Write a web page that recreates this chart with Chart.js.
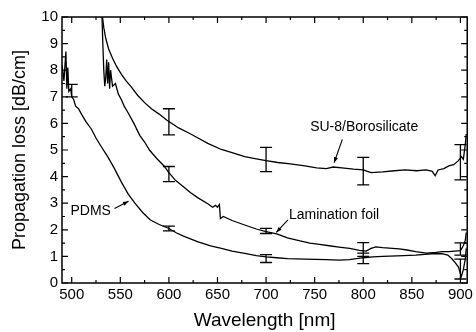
<!DOCTYPE html>
<html>
<head>
<meta charset="utf-8">
<script src="https://cdn.jsdelivr.net/npm/chart.js@4.4.1/dist/chart.umd.min.js"></script>
<style>
  body { margin: 0; background: #fff; }
  #wrap { width: 476px; height: 332px; }
</style>
</head>
<body>
<div id="wrap"><canvas id="lossChart" width="476" height="332"></canvas></div>
<script>
// tick labels
const xTicks = [500, 550, 600, 650, 700, 750, 800, 850, 900];
const yTicks = [0, 1, 2, 3, 4, 5, 6, 7, 8, 9, 10];

// SU-8/Borosilicate
const su8Nm = [531, 533, 535, 538, 542, 546, 551, 556, 561, 568, 575, 582, 590, 598, 605, 610, 620, 630, 640, 654, 665, 678, 690, 700, 712, 725, 740, 752, 762, 769, 778, 790, 800, 808, 820, 832, 843, 855, 865, 871, 874, 877, 883, 888, 893, 898, 901, 903, 905, 906];
const su8Loss = [10.2, 9.6, 9.2, 8.8, 8.45, 8.15, 7.85, 7.6, 7.38, 7.05, 6.78, 6.55, 6.35, 6.12, 5.95, 5.83, 5.65, 5.45, 5.25, 5.02, 4.9, 4.75, 4.67, 4.6, 4.53, 4.48, 4.4, 4.33, 4.3, 4.36, 4.33, 4.28, 4.25, 4.15, 4.18, 4.22, 4.25, 4.22, 4.25, 4.2, 4.03, 4.25, 4.3, 4.4, 4.45, 4.6, 4.75, 4.65, 5.2, 5.6];

// Lamination foil
const lamNm = [531, 532, 533, 534, 535, 536, 537, 538, 539, 540, 542, 545, 548, 551, 554, 558, 564, 570, 575, 580, 587, 595, 600, 607, 615, 622, 630, 640, 645, 648, 650, 652, 653, 656, 665, 678, 690, 700, 711, 722, 735, 745, 755, 765, 775, 786, 796, 803, 808, 813, 820, 830, 837, 845, 854, 865, 875, 881, 888, 894, 900, 903, 905, 906];
const lamLoss = [10.2, 9.0, 8.0, 7.4, 7.7, 8.4, 7.5, 8.3, 7.3, 8.0, 7.4, 7.5, 7.1, 6.9, 6.65, 6.4, 6.0, 5.55, 5.3, 5.0, 4.7, 4.4, 4.15, 3.85, 3.62, 3.4, 3.2, 2.98, 2.85, 2.92, 2.85, 2.95, 2.42, 2.5, 2.35, 2.18, 2.03, 1.93, 1.85, 1.7, 1.58, 1.5, 1.45, 1.4, 1.35, 1.3, 1.23, 1.2, 1.3, 1.36, 1.33, 1.3, 1.28, 1.24, 1.18, 1.12, 1.15, 1.18, 1.18, 1.2, 1.22, 1.4, 1.6, 1.9];

// PDMS
const pdmsNm = [490, 492, 494, 495, 496, 497, 499, 500, 502, 504, 507, 510, 515, 520, 525, 530, 537, 544, 551, 558, 565, 573, 581, 590, 600, 608, 615, 630, 643, 654, 665, 678, 690, 700, 711, 722, 740, 762, 775, 786, 800, 810, 820, 835, 854, 870, 881, 887, 891, 895, 898, 900, 901, 903, 905, 906];
const pdmsLoss = [8.2, 7.6, 8.7, 7.3, 8.1, 7.2, 7.3, 7.0, 6.9, 6.65, 6.55, 6.35, 6.05, 5.8, 5.45, 5.15, 4.75, 4.3, 3.8, 3.35, 3.0, 2.65, 2.37, 2.2, 2.05, 1.88, 1.76, 1.55, 1.4, 1.3, 1.2, 1.11, 1.03, 0.98, 0.95, 0.92, 0.9, 0.88, 0.86, 0.88, 0.95, 0.98, 1.0, 1.02, 1.05, 1.1, 1.1, 1.05, 0.92, 0.75, 0.6, 0.35, 0.25, 0.5, 0.9, 1.3];

// error bars (wavelength, low, high)
const errNm = [600, 700, 800, 900];
const su8Low = [5.57, 4.19, 3.69, 3.88];
const su8High = [6.55, 5.1, 4.72, 5.2];
const lamLow = [3.81, 1.86, 1.0, 1.05];
const lamHigh = [4.38, 2.05, 1.52, 1.51];
const pdmsErrNm = [500, 600, 700, 800, 900];
const pdmsLow = [7.0, 1.96, 0.77, 0.73, 0.15];
const pdmsHigh = [7.47, 2.14, 1.07, 1.12, 0.9];

const FONT = "'Liberation Sans', Arial, Helvetica, sans-serif";

function pts(xs, ys) {
    return xs.map((x, i) => ({ x: x, y: ys[i] }));
}

const errorBars = [
    { xs: errNm, lo: su8Low, hi: su8High },
    { xs: errNm, lo: lamLow, hi: lamHigh },
    { xs: pdmsErrNm, lo: pdmsLow, hi: pdmsHigh }
];

// curve labels with arrows, in data coordinates
const notes = [
    { text: 'SU-8/Borosilicate', x: 801, y: 5.86, from: [778.5, 5.4], to: [770, 4.52] },
    { text: 'Lamination foil', x: 770, y: 2.55, from: [722.5, 2.37], to: [710.5, 1.9] },
    { text: 'PDMS', x: 519.5, y: 2.72, from: [544, 2.8], to: [558.5, 3.07] }
];

const framePlugin = {
    id: 'frame',
    afterDatasetsDraw(chart) {
        const ctx = chart.ctx;
        const a = chart.chartArea;
        const xs = chart.scales.x;
        const ys = chart.scales.y;
        ctx.save();
        ctx.strokeStyle = '#000';
        ctx.lineWidth = 1.5;
        ctx.strokeRect(a.left, a.top, a.right - a.left, a.bottom - a.top);

        // inward ticks on all four sides
        ctx.lineWidth = 1.2;
        ctx.beginPath();
        for (let v = 475; v <= 907; v += 25) {
            if (v < xs.min) continue;
            const px = xs.getPixelForValue(v);
            const len = v % 50 === 0 ? 6 : 3;
            ctx.moveTo(px, a.bottom); ctx.lineTo(px, a.bottom - len);
            ctx.moveTo(px, a.top); ctx.lineTo(px, a.top + len);
        }
        for (let v = 0; v <= 10; v += 0.5) {
            const py = ys.getPixelForValue(v);
            const len = v % 1 === 0 ? 6 : 3;
            ctx.moveTo(a.left, py); ctx.lineTo(a.left + len, py);
            ctx.moveTo(a.right, py); ctx.lineTo(a.right - len, py);
        }
        ctx.stroke();

        // error bars
        ctx.lineWidth = 1.3;
        ctx.beginPath();
        errorBars.forEach(eb => {
            eb.xs.forEach((x, i) => {
                const px = xs.getPixelForValue(x);
                const p1 = ys.getPixelForValue(eb.lo[i]);
                const p2 = ys.getPixelForValue(eb.hi[i]);
                ctx.moveTo(px, p1); ctx.lineTo(px, p2);
                ctx.moveTo(px - 6, p1); ctx.lineTo(px + 6, p1);
                ctx.moveTo(px - 6, p2); ctx.lineTo(px + 6, p2);
            });
        });
        ctx.stroke();

        // labels and arrows
        ctx.font = '14px ' + FONT;
        ctx.fillStyle = '#000';
        ctx.textAlign = 'center';
        ctx.textBaseline = 'middle';
        notes.forEach(n => {
            ctx.fillText(n.text, xs.getPixelForValue(n.x), ys.getPixelForValue(n.y));
            const x1 = xs.getPixelForValue(n.from[0]), y1 = ys.getPixelForValue(n.from[1]);
            const x2 = xs.getPixelForValue(n.to[0]), y2 = ys.getPixelForValue(n.to[1]);
            ctx.lineWidth = 1.1;
            ctx.beginPath();
            ctx.moveTo(x1, y1); ctx.lineTo(x2, y2);
            ctx.stroke();
            const ang = Math.atan2(y2 - y1, x2 - x1);
            ctx.beginPath();
            ctx.moveTo(x2, y2);
            ctx.lineTo(x2 - 6 * Math.cos(ang - 0.35), y2 - 6 * Math.sin(ang - 0.35));
            ctx.lineTo(x2 - 6 * Math.cos(ang + 0.35), y2 - 6 * Math.sin(ang + 0.35));
            ctx.closePath();
            ctx.fill();
        });
        ctx.restore();
    }
};

const lineStyle = {
    borderColor: '#000',
    borderWidth: 1.3,
    pointRadius: 0,
    tension: 0,
    fill: false
};

new Chart(document.getElementById('lossChart').getContext('2d'), {
    type: 'line',
    data: {
        datasets: [
            Object.assign({ label: 'SU-8/Borosilicate', data: pts(su8Nm, su8Loss) }, lineStyle),
            Object.assign({ label: 'Lamination foil', data: pts(lamNm, lamLoss) }, lineStyle),
            Object.assign({ label: 'PDMS', data: pts(pdmsNm, pdmsLoss) }, lineStyle)
        ]
    },
    options: {
        responsive: false,
        animation: false,
        layout: { padding: { left: 0, right: 4, top: 17, bottom: 0 } },
        plugins: {
            legend: { display: false },
            tooltip: { enabled: false }
        },
        scales: {
            x: {
                type: 'linear',
                min: 490,
                max: 907,
                afterBuildTicks: function (scale) {
                    scale.ticks = xTicks.map(v => ({ value: v }));
                },
                afterFit: function (scale) { scale.height = 49; },
                grid: { display: false, drawTicks: false, tickLength: 0 },
                border: { display: false },
                ticks: {
                    color: '#000',
                    padding: 3,
                    maxRotation: 0,
                    font: { family: FONT, size: 15 }
                },
                title: {
                    display: true,
                    text: 'Wavelength [nm]',
                    color: '#000',
                    padding: { top: 8, bottom: 0 },
                    font: { family: FONT, size: 19 }
                }
            },
            y: {
                min: 0,
                max: 10,
                afterBuildTicks: function (scale) {
                    scale.ticks = yTicks.map(v => ({ value: v }));
                },
                afterFit: function (scale) { scale.width = 62; },
                grid: { display: false, drawTicks: false, tickLength: 0 },
                border: { display: false },
                ticks: {
                    color: '#000',
                    padding: 4,
                    font: { family: FONT, size: 15 }
                },
                title: {
                    display: true,
                    text: 'Propagation loss [dB/cm]',
                    color: '#000',
                    padding: { top: 9, bottom: 0 },
                    font: { family: FONT, size: 18 }
                }
            }
        }
    },
    plugins: [framePlugin]
});
</script>
</body>
</html>
